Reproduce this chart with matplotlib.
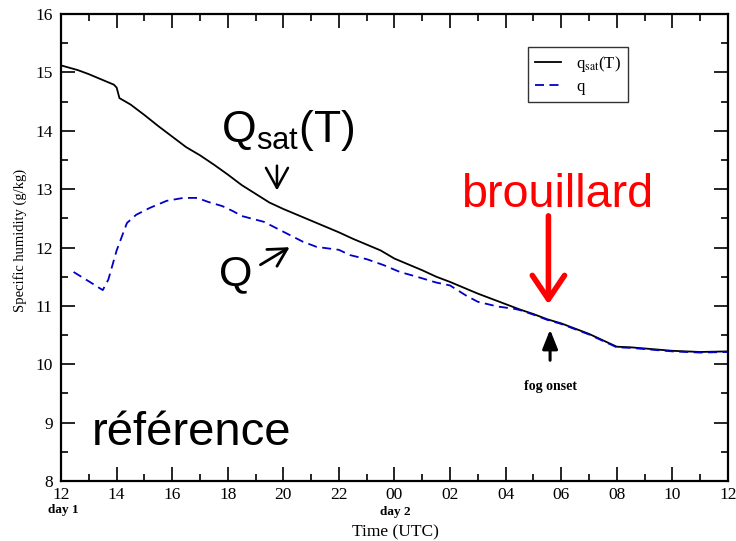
import matplotlib
matplotlib.use("Agg")
import matplotlib.pyplot as plt

plt.rcParams['font.family'] = ['Liberation Serif', 'DejaVu Serif']
plt.rcParams['mathtext.fontset'] = 'custom'
plt.rcParams['mathtext.rm'] = 'Liberation Sans'
plt.rcParams['mathtext.it'] = 'Liberation Sans:italic'

# saturation specific humidity (hours since day 1 00 UTC, g/kg)
t_sat = [12.0, 12.6, 13.0, 13.5, 13.9, 14.0, 14.1, 14.5, 15.0, 15.5, 16.0, 16.5,
         17.0, 17.5, 18.0, 18.5, 19.0, 19.5, 20.0, 20.5, 21.0, 21.5, 22.0, 22.5,
         23.0, 23.5, 24.0, 24.5, 25.0, 25.5, 26.0, 26.5, 27.0, 27.5, 28.0, 28.5,
         29.0, 29.5, 30.0, 30.5, 31.0, 31.5, 32.0, 32.5, 33.0, 33.5, 34.0, 34.5,
         35.0, 36.0]
q_sat = [15.12, 15.04, 14.97, 14.87, 14.79, 14.74, 14.56, 14.45, 14.27, 14.08,
         13.90, 13.72, 13.58, 13.42, 13.25, 13.07, 12.92, 12.77, 12.66, 12.56,
         12.46, 12.36, 12.26, 12.15, 12.05, 11.95, 11.81, 11.71, 11.61, 11.50,
         11.41, 11.31, 11.21, 11.12, 11.03, 10.94, 10.86, 10.77, 10.70, 10.61,
         10.52, 10.41, 10.30, 10.29, 10.27, 10.25, 10.23, 10.22, 10.21, 10.22]

# specific humidity
t_q = [12.45, 13.0, 13.5, 13.7, 14.0, 14.37, 14.7, 15.2, 15.8, 16.4, 16.9, 17.3,
       17.8, 18.2, 18.5, 19.3, 20.0, 20.7, 21.2, 22.0, 22.4, 23.0, 23.6, 24.2,
       24.8, 25.5, 26.0, 26.6, 27.0, 27.7, 28.3, 28.5, 29.0, 29.5, 30.0, 30.5,
       31.0, 31.5, 32.0, 32.5, 33.0, 33.5, 34.0, 34.5, 35.0, 36.0]
q = [11.58, 11.42, 11.27, 11.45, 11.95, 12.42, 12.56, 12.68, 12.80, 12.85,
     12.85, 12.78, 12.71, 12.62, 12.54, 12.44, 12.27, 12.10, 12.01, 11.96,
     11.87, 11.80, 11.70, 11.58, 11.50, 11.40, 11.35, 11.17, 11.07, 10.99,
     10.95, 10.93, 10.85, 10.76, 10.69, 10.60, 10.51, 10.40, 10.29, 10.28,
     10.26, 10.24, 10.22, 10.21, 10.20, 10.21]

x_ticks = list(range(12, 37, 2))
x_labels = ['12', '14', '16', '18', '20', '22', '00', '02', '04', '06', '08', '10', '12']
y_ticks = list(range(8, 17))

fig = plt.figure(figsize=(7.36, 5.41), dpi=100)
ax = fig.add_axes([0.083, 0.111, 0.906, 0.863])

ax.plot(t_sat, q_sat, color='black', lw=1.3, label='q$_{\\mathrm{sat}}$(T)')
ax.plot(t_q, q, color='#0000c8', lw=1.3, ls=(0, (5, 3)), label='q')

ax.set_xlim(12, 36)
ax.set_ylim(8, 16)
ax.set_xticks(x_ticks)
ax.set_xticklabels(x_labels)
ax.set_xticks(range(13, 36, 2), minor=True)
ax.set_yticks(y_ticks)
ax.set_yticks([v + 0.5 for v in range(8, 16)], minor=True)
ax.tick_params(which='both', direction='in', top=True, right=True, width=1.2,
               labelsize=12.5)
ax.tick_params(which='major', length=10)
ax.tick_params(which='minor', length=5)
ax.tick_params(axis='x', pad=4)
ax.tick_params(axis='y', pad=6)
for sp in ax.spines.values():
    sp.set_linewidth(1.6)

leg = ax.legend(loc='upper left', bbox_to_anchor=(0.70, 0.929), fontsize=12,
                frameon=True, fancybox=False, handlelength=1.6,
                borderpad=0.4, labelspacing=0.3, borderaxespad=0,
                handletextpad=0.9)
leg.get_frame().set_edgecolor('black')
leg.get_frame().set_linewidth(1.0)
for txt in leg.get_texts():
    txt.set_math_fontfamily('stix')

fig.text(20 / 736, 1 - 240 / 541, 'Specific humidity (g/kg)', rotation=90,
         ha='center', va='center', fontsize=10.5)
fig.text(395 / 736, 1 - 532 / 541, 'Time (UTC)', ha='center', va='center', fontsize=12.5)
fig.text(63 / 736, 1 - 510 / 541, 'day 1', ha='center', va='center',
         fontsize=9.5, fontweight='bold')
fig.text(395 / 736, 1 - 512 / 541, 'day 2', ha='center', va='center',
         fontsize=9.5, fontweight='bold')

sans = ['Liberation Sans', 'DejaVu Sans']

# big labels with their arrows
ax.text(20.18, 13.81, 'Q$_{\\mathrm{sat}}$(T)', fontsize=32, family=sans,
        ha='center', va='baseline')
ax.annotate('', xy=(19.77, 12.93), xytext=(19.77, 13.45),
            arrowprops=dict(arrowstyle='->,head_length=0.4,head_width=0.22',
                            color='black', lw=1.8, mutation_scale=36))
ax.text(18.28, 11.36, 'Q', fontsize=31, family=sans, ha='center', va='baseline')
ax.annotate('', xy=(20.31, 12.03), xytext=(19.09, 11.68),
            arrowprops=dict(arrowstyle='->,head_length=0.4,head_width=0.22',
                            color='black', lw=2.0, mutation_scale=32))

ax.text(29.86, 12.70, 'brouillard', fontsize=33.7, family=sans, color='red',
        ha='center', va='baseline')
ax.annotate('', xy=(29.54, 10.98), xytext=(29.54, 12.59),
            arrowprops=dict(arrowstyle='->,head_length=0.4,head_width=0.27',
                            color='red', lw=4, mutation_scale=43))

ax.annotate('', xy=(29.6, 10.64), xytext=(29.6, 10.02),
            arrowprops=dict(arrowstyle='-|>,head_length=0.4,head_width=0.16',
                            color='black', lw=2.2, mutation_scale=29))
ax.text(29.6, 9.61, 'fog onset', fontsize=10, fontweight='bold',
        ha='center', va='center')

ax.text(13.1, 8.62, 'référence', fontsize=34, family=sans,
        ha='left', va='baseline')

fig.savefig('out.png', dpi=100)
